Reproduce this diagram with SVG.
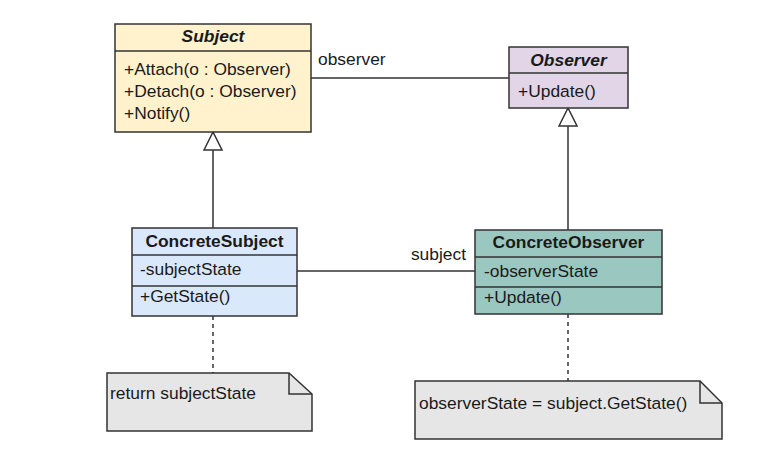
<svg xmlns="http://www.w3.org/2000/svg" width="766" height="467" viewBox="0 0 766 467">
<style>
text{font-family:"Liberation Sans",Arial,sans-serif;font-size:17.4px;fill:#1a1a1a}
.t{font-weight:bold;text-anchor:middle}
.i{font-style:italic}
.box{stroke:#333;stroke-width:1.5}
.ln{stroke:#333;stroke-width:1.5;fill:none}
.dash{stroke:#333;stroke-width:1.5;fill:none;stroke-dasharray:4 4}
</style>
<defs>
<marker id="tri" viewBox="0 0 20 20" refX="19" refY="10" markerWidth="20" markerHeight="20" markerUnits="userSpaceOnUse" orient="auto">
<path d="M1,1 L19,10 L1,19 Z" fill="#fff" stroke="#333" stroke-width="1.5"/>
</marker>
</defs>
<rect width="766" height="467" fill="#fff"/>
<g id="connectors">
<line class="ln" x1="311" y1="78" x2="509" y2="78"/>
<line class="ln" x1="297" y1="271" x2="475" y2="271"/>
<line class="ln" x1="213" y1="228" x2="213" y2="132" marker-end="url(#tri)"/>
<line class="ln" x1="568" y1="230" x2="568" y2="108" marker-end="url(#tri)"/>
<line class="dash" x1="213" y1="316" x2="213" y2="373"/>
<line class="dash" x1="568" y1="314" x2="568" y2="381"/>
<text x="318" y="65">observer</text>
<text x="466" y="260" text-anchor="end">subject</text>
</g>
<g id="subject">
<rect class="box" x="115" y="24" width="196" height="108" fill="#fff2cc"/>
<line class="ln" x1="115" y1="51" x2="311" y2="51"/>
<text class="t i" x="213" y="42">Subject</text>
<text x="124" y="75">+Attach(o : Observer)</text>
<text x="124" y="97">+Detach(o : Observer)</text>
<text x="124" y="119">+Notify()</text>
</g>
<g id="observer">
<rect class="box" x="509" y="47" width="119" height="61" fill="#e1d5e7"/>
<line class="ln" x1="509" y1="73" x2="628" y2="73"/>
<text class="t i" x="568.5" y="66">Observer</text>
<text x="518" y="97">+Update()</text>
</g>
<g id="concreteSubject">
<rect class="box" x="132" y="228" width="165" height="88" fill="#dae8fc"/>
<line class="ln" x1="132" y1="255" x2="297" y2="255"/>
<line class="ln" x1="132" y1="286" x2="297" y2="286"/>
<text class="t" x="214.5" y="247">ConcreteSubject</text>
<text x="140" y="275">-subjectState</text>
<text x="140" y="302">+GetState()</text>
</g>
<g id="concreteObserver">
<rect class="box" x="475" y="230" width="187" height="84" fill="#9ac7bf"/>
<line class="ln" x1="475" y1="257" x2="662" y2="257"/>
<line class="ln" x1="475" y1="287" x2="662" y2="287"/>
<text class="t" x="568.5" y="248">ConcreteObserver</text>
<text x="484" y="277">-observerState</text>
<text x="484" y="303">+Update()</text>
</g>
<g id="note1">
<path class="box" d="M107,373 H289 L312,394 V431 H107 Z" fill="#e6e6e6"/>
<path class="ln" d="M289,373 V394 H312" fill="#fff"/>
<text x="110" y="399">return subjectState</text>
</g>
<g id="note2">
<path class="box" d="M415,381 H700 L722,403 V439 H415 Z" fill="#e6e6e6"/>
<path class="ln" d="M700,381 V403 H722" fill="#fff"/>
<text x="419" y="409">observerState = subject.GetState()</text>
</g>
</svg>
